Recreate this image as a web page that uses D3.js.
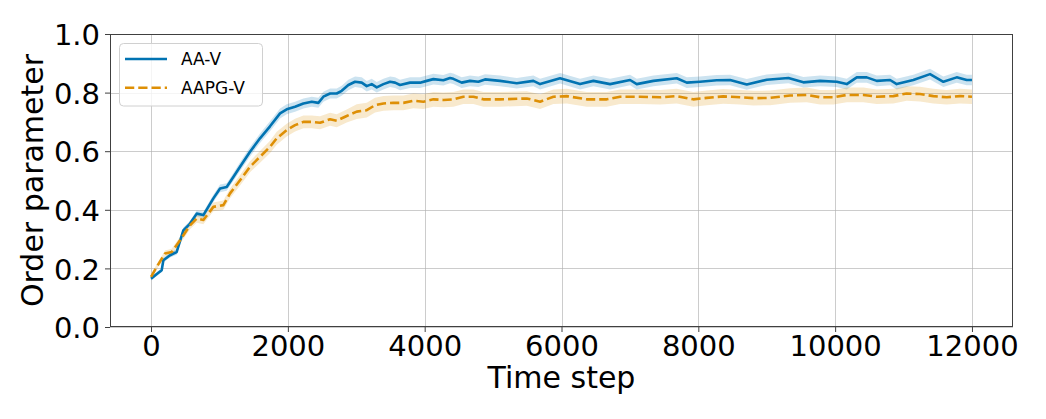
<!DOCTYPE html>
<html>
<head>
<meta charset="utf-8">
<script src="https://cdn.jsdelivr.net/npm/d3@7"></script>
<style>
  html, body { margin: 0; padding: 0; background: #fff; }
  svg { display: block; font-family: "DejaVu Sans", sans-serif; }
</style>
</head>
<body>
<svg id="chart" width="1046" height="419"></svg>
<script>
// ---- data ----
const seriesNames = ["AA-V", "AAPG-V"];
const xTicks = [0, 2000, 4000, 6000, 8000, 10000, 12000];
const yTicks = [0.0, 0.2, 0.4, 0.6, 0.8, 1.0];
const xLabel = "Time step";
const yLabel = "Order parameter";

const aaT = [0, 80, 156, 180, 278, 375, 472, 570, 668, 765,
  911, 1009, 1106, 1203, 1301, 1447, 1593, 1739, 1886, 1983,
  2105, 2227, 2349, 2446, 2519, 2617, 2714, 2787, 2884, 2982,
  3080, 3153, 3226, 3299, 3397, 3494, 3567, 3640, 3786, 3932,
  4030, 4127, 4273, 4371, 4419, 4541, 4663, 4785, 4882, 5102,
  5346, 5589, 5687, 5979, 6271, 6466, 6710, 7002, 7100, 7344,
  7685, 7831, 8025, 8269, 8464, 8708, 9000, 9317, 9536, 9780,
  10023, 10170, 10316, 10462, 10608, 10803, 10900, 11143, 11387, 11582,
  11777, 11923, 12000];
const aaV = [0.165, 0.180, 0.194, 0.228, 0.245, 0.256, 0.330, 0.353, 0.387, 0.382,
  0.439, 0.473, 0.478, 0.512, 0.547, 0.598, 0.644, 0.685, 0.729, 0.743,
  0.752, 0.763, 0.769, 0.765, 0.786, 0.797, 0.797, 0.806, 0.826, 0.837,
  0.834, 0.822, 0.829, 0.818, 0.829, 0.837, 0.834, 0.826, 0.834, 0.834,
  0.840, 0.846, 0.842, 0.850, 0.847, 0.834, 0.840, 0.837, 0.845, 0.840,
  0.832, 0.840, 0.829, 0.849, 0.829, 0.840, 0.829, 0.843, 0.829, 0.840,
  0.849, 0.834, 0.837, 0.842, 0.843, 0.828, 0.844, 0.850, 0.835, 0.840,
  0.837, 0.829, 0.852, 0.852, 0.840, 0.843, 0.829, 0.843, 0.863, 0.837,
  0.852, 0.843, 0.843];
const aaSd = [0.006, 0.007, 0.007, 0.008, 0.008, 0.009, 0.010, 0.010, 0.011, 0.011,
  0.012, 0.013, 0.013, 0.014, 0.015, 0.016, 0.016, 0.017, 0.017, 0.017,
  0.017, 0.017, 0.017, 0.017, 0.017, 0.017, 0.017, 0.017, 0.018, 0.018,
  0.018, 0.018, 0.018, 0.018, 0.018, 0.018, 0.018, 0.018, 0.018, 0.018,
  0.018, 0.018, 0.018, 0.018, 0.018, 0.018, 0.018, 0.018, 0.018, 0.018,
  0.018, 0.018, 0.018, 0.018, 0.018, 0.018, 0.018, 0.018, 0.018, 0.018,
  0.018, 0.018, 0.018, 0.018, 0.018, 0.018, 0.018, 0.018, 0.018, 0.018,
  0.018, 0.018, 0.018, 0.018, 0.018, 0.018, 0.018, 0.018, 0.018, 0.018,
  0.018, 0.018, 0.018];

const aapgT = [0, 83, 205, 302, 424, 570, 668, 765, 911, 1057,
  1155, 1301, 1447, 1593, 1740, 1837, 1983, 2105, 2227, 2349,
  2470, 2617, 2714, 2860, 3007, 3153, 3274, 3397, 3542, 3688,
  3834, 3981, 4127, 4273, 4419, 4566, 4712, 4858, 5102, 5492,
  5687, 5882, 6077, 6369, 6661, 6856, 7148, 7440, 7685, 7927,
  8123, 8366, 8610, 8805, 9049, 9341, 9585, 9780, 9974, 10170,
  10413, 10608, 10851, 11046, 11241, 11436, 11631, 11826, 12000];
const aapgV = [0.171, 0.205, 0.251, 0.256, 0.296, 0.347, 0.370, 0.365, 0.410, 0.416,
  0.456, 0.501, 0.547, 0.581, 0.615, 0.644, 0.672, 0.689, 0.700, 0.700,
  0.697, 0.709, 0.704, 0.720, 0.735, 0.740, 0.757, 0.763, 0.765, 0.765,
  0.772, 0.769, 0.777, 0.775, 0.777, 0.786, 0.786, 0.777, 0.777, 0.780,
  0.769, 0.786, 0.788, 0.777, 0.777, 0.786, 0.786, 0.784, 0.788, 0.777,
  0.782, 0.787, 0.784, 0.781, 0.782, 0.790, 0.792, 0.784, 0.784, 0.792,
  0.792, 0.786, 0.788, 0.797, 0.795, 0.788, 0.784, 0.788, 0.786];
const aapgSd = [0.008, 0.009, 0.010, 0.011, 0.012, 0.013, 0.014, 0.014, 0.015, 0.016,
  0.017, 0.018, 0.019, 0.020, 0.021, 0.022, 0.022, 0.022, 0.022, 0.022,
  0.022, 0.022, 0.022, 0.022, 0.025, 0.025, 0.025, 0.025, 0.025, 0.025,
  0.025, 0.025, 0.025, 0.025, 0.025, 0.025, 0.025, 0.025, 0.025, 0.025,
  0.025, 0.025, 0.025, 0.025, 0.025, 0.025, 0.025, 0.025, 0.025, 0.025,
  0.025, 0.025, 0.025, 0.025, 0.025, 0.025, 0.025, 0.025, 0.025, 0.025,
  0.025, 0.025, 0.025, 0.025, 0.025, 0.025, 0.025, 0.025, 0.025];

const colors = ["#0173b2", "#de8f05"];

// ---- layout ----
const L = 110, R = 1013, T = 34, B = 327;
const svg = d3.select("#chart");
const x = d3.scaleLinear().domain([-600, 12600]).range([L, R]);
const y = d3.scaleLinear().domain([0, 1]).range([B, T]);

// grid
const grid = svg.append("g").attr("stroke", "#b0b0b0").attr("stroke-opacity", 0.65).attr("stroke-width", 1);
xTicks.forEach(t => {
  const px = Math.round(x(t)) + 0.5;
  grid.append("line").attr("x1", px).attr("x2", px).attr("y1", T).attr("y2", B);
});
yTicks.forEach(t => {
  const py = Math.round(y(t)) + 0.5;
  grid.append("line").attr("x1", L).attr("x2", R).attr("y1", py).attr("y2", py);
});

// series
const series = [
  { name: seriesNames[0], t: aaT, v: aaV, sd: aaSd, color: colors[0], dash: null },
  { name: seriesNames[1], t: aapgT, v: aapgV, sd: aapgSd, color: colors[1], dash: "9.25,4" }
];
const plot = svg.append("g");
series.forEach(s => {
  const pts = s.t.map((t, i) => ({ t, v: s.v[i], sd: s.sd[i] }));
  const area = d3.area().x(d => x(d.t)).y0(d => y(d.v - d.sd)).y1(d => y(d.v + d.sd));
  plot.append("path").datum(pts).attr("d", area).attr("fill", s.color).attr("fill-opacity", 0.2);
});
series.forEach(s => {
  const pts = s.t.map((t, i) => ({ t, v: s.v[i] }));
  const line = d3.line().x(d => x(d.t)).y(d => y(d.v));
  const p = plot.append("path").datum(pts).attr("d", line).attr("fill", "none")
    .attr("stroke", s.color).attr("stroke-width", 2.6).attr("stroke-linejoin", "round");
  if (s.dash) p.attr("stroke-dasharray", s.dash);
});

// spines
svg.append("rect").attr("x", L + 0.5).attr("y", T + 0.5).attr("width", R - L - 1).attr("height", B - T - 1)
  .attr("fill", "none").attr("stroke", "#404040").attr("stroke-width", 1);

// ticks
const xa = svg.append("g").attr("transform", `translate(0,${B})`)
  .call(d3.axisBottom(x).tickValues(xTicks).tickFormat(d3.format("d")).tickSizeOuter(0).tickSize(5).tickPadding(4));
const ya = svg.append("g").attr("transform", `translate(${L},0)`)
  .call(d3.axisLeft(y).tickValues(yTicks).tickFormat(d3.format(".1f")).tickSizeOuter(0).tickSize(5).tickPadding(5));
[xa, ya].forEach(a => {
  a.select(".domain").remove();
  a.selectAll(".tick line").attr("stroke", "#404040");
  a.selectAll(".tick text").attr("fill", "#000").style("font-size", "29px").style("font-family", "DejaVu Sans");
});
xa.selectAll(".tick text").attr("dy", null).attr("y", 29);
ya.selectAll(".tick text").attr("dy", "0.37em");

// axis labels
svg.append("text").attr("x", (L + R) / 2).attr("y", 388).attr("text-anchor", "middle")
  .style("font-size", "30px").text(xLabel);
svg.append("text").attr("transform", `translate(43,${(T + B) / 2}) rotate(-90)`).attr("text-anchor", "middle")
  .style("font-size", "30px").text(yLabel);

// legend
const lg = svg.append("g");
lg.append("rect").attr("x", 119.5).attr("y", 43.5).attr("width", 143).attr("height", 62.5).attr("rx", 4)
  .attr("fill", "#fff").attr("fill-opacity", 0.8).attr("stroke", "#d0d0d0").attr("stroke-width", 1);
series.forEach((s, i) => {
  const yy = 59 + i * 28.7;
  const ln = lg.append("line").attr("x1", 125).attr("x2", 167).attr("y1", yy).attr("y2", yy)
    .attr("stroke", s.color).attr("stroke-width", 2.6);
  if (s.dash) ln.attr("stroke-dasharray", s.dash);
  lg.append("text").attr("x", 181).attr("y", yy + 6.2).style("font-size", "17px").attr("fill", "#000").text(s.name);
});
</script>
</body>
</html>
